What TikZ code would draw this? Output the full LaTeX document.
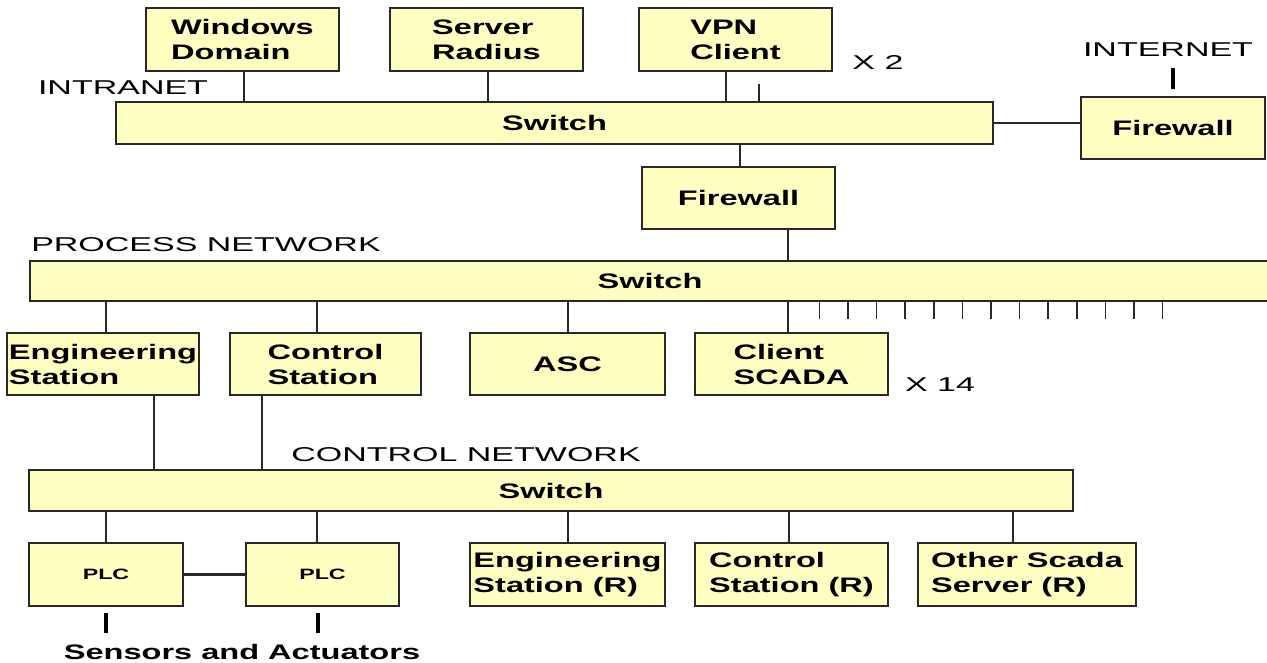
\documentclass[tikz,border=0pt]{standalone}
\usepackage{fontspec}
\setmainfont{Liberation Sans}
\newfontfamily\lblfont{Liberation Sans}[FakeStretch=1.7]
\newfontfamily\boxfont{Liberation Sans}[FakeStretch=1.55]
\definecolor{boxfill}{RGB}{255,255,194}
\definecolor{edge}{RGB}{40,40,40}
\tikzset{
  unit/.style={draw=edge, line width=1.4pt, fill=boxfill, inner sep=0pt, align=left,
    font=\boxfont\bfseries\fontsize{21}{25}\selectfont},
  small/.style={unit, font=\boxfont\bfseries\fontsize{15}{18}\selectfont},
  lbl/.style={inner sep=0pt, font=\lblfont\fontsize{20}{24}\selectfont},
  bigtxt/.style={inner sep=0pt, font=\boxfont\bfseries\fontsize{21}{25}\selectfont},
  link/.style={draw=edge, line width=1.3pt},
  tick/.style={draw=edge, line width=1.6pt},
  plclink/.style={draw=edge, line width=2.4pt},
  bar/.style={draw=black, line width=4pt}
}
\begin{document}
\begin{tikzpicture}[x=1pt, y=-1pt]
\useasboundingbox (0,0) rectangle (1267,663);
\fill[white] (0,0) rectangle (1267,663);

% ---- intranet level
\node[unit, minimum width=193pt, minimum height=63pt] (wd)  at (242.5,39.5) {Windows\\Domain};
\node[unit, minimum width=193pt, minimum height=63pt] (sr)  at (486.5,39.5) {Server\\Radius};
\node[unit, minimum width=193pt, minimum height=63pt] (vpn) at (735.5,39.5) {VPN\\Client};
\node[lbl] (x2) at (878,63) {X 2};
\node[lbl] (intranet) at (123,88) {INTRANET};
\node[unit, align=center, minimum width=877pt, minimum height=42pt] (isw) at (554.5,123) {Switch};
\node[lbl] (internet) at (1168,50) {INTERNET};
\node[unit, minimum width=184pt, minimum height=62pt] (ifw) at (1173,128) {Firewall};
\node[unit, minimum width=193pt, minimum height=62pt] (mfw) at (738.5,198) {Firewall};

% ---- process network
\node[lbl] (pnet) at (206,245) {PROCESS NETWORK};
\node[unit, align=center, minimum width=1240pt, minimum height=40pt] (psw) at (650,281) {Switch};
\node[unit, minimum width=192pt, minimum height=62pt] (es)    at (103,364)   {Engineering\\Station};
\node[unit, minimum width=191pt, minimum height=62pt] (cs)    at (325.5,364) {Control\\Station};
\node[unit, minimum width=195pt, minimum height=62pt] (asc)   at (567.5,364) {ASC};
\node[unit, minimum width=193pt, minimum height=62pt] (scada) at (791.5,364) {Client\\SCADA};
\node[lbl] (x14) at (940,385) {X 14};

% ---- control network
\node[lbl] (cnet) at (466,455) {CONTROL NETWORK};
\node[unit, align=center, minimum width=1044pt, minimum height=41pt] (csw) at (551,490.5) {Switch};
\node[small, align=center, minimum width=154pt, minimum height=63pt] (plc1) at (106,574.5) {PLC};
\node[small, align=center, minimum width=153pt, minimum height=63pt] (plc2) at (322.5,574.5) {PLC};
\node[unit, minimum width=195pt, minimum height=63pt] (esr) at (567.5,574.5) {Engineering\\Station (R)};
\node[unit, minimum width=193pt, minimum height=63pt] (csr) at (791.5,574.5) {Control\\Station (R)};
\node[unit, minimum width=218pt, minimum height=63pt] (oss) at (1027,574.5) {Other Scada\\Server (R)};
\node[bigtxt] (sens) at (242,652) {Sensors and Actuators};

% ---- connectors, intranet
\draw[link] ([xshift=1.5pt]wd.south) -- ([xshift=1.5pt]wd.south |- isw.north);
\draw[link] ([xshift=1.5pt]sr.south) -- ([xshift=1.5pt]sr.south |- isw.north);
\draw[link] ([xshift=-9.5pt]vpn.south) -- ([xshift=-9.5pt]vpn.south |- isw.north);
\draw[link] ([xshift=204.5pt]isw.north) -- ++(0,-17);
\draw[link] (isw.east) -- (isw.east -| ifw.west);
\draw[bar] ([yshift=7pt]ifw.north) -- ++(0,-21);
\draw[link] ([xshift=1.5pt]mfw.north) -- ([xshift=1.5pt]mfw.north |- isw.south);
\draw[link] ([xshift=49.5pt]mfw.south) -- ([xshift=49.5pt]mfw.south |- psw.north);

% ---- connectors, process network
\draw[link] ([xshift=3pt]es.north) -- ([xshift=3pt]es.north |- psw.south);
\draw[link] ([xshift=-8.5pt]cs.north) -- ([xshift=-8.5pt]cs.north |- psw.south);
\draw[link] ([xshift=0.5pt]asc.north) -- ([xshift=0.5pt]asc.north |- psw.south);
\draw[link] ([xshift=-3.5pt]scada.north) -- ([xshift=-3.5pt]scada.north |- psw.south);
\foreach \i in {0,...,12}
  \draw[tick] ([xshift={790pt+\i*28.6pt}]psw.south west) -- ++(0,17);

% ---- connectors, control network
\draw[link] ([xshift=51pt]es.south) -- ([xshift=51pt]es.south |- csw.north);
\draw[link] ([xshift=-63.5pt]cs.south) -- ([xshift=-63.5pt]cs.south |- csw.north);
\draw[link] (plc1.north) -- (plc1.north |- csw.south);
\draw[link] ([xshift=-5.5pt]plc2.north) -- ([xshift=-5.5pt]plc2.north |- csw.south);
\draw[link] ([xshift=0.5pt]esr.north) -- ([xshift=0.5pt]esr.north |- csw.south);
\draw[link] ([xshift=-2.5pt]csr.north) -- ([xshift=-2.5pt]csr.north |- csw.south);
\draw[link] ([xshift=-14pt]oss.north) -- ([xshift=-14pt]oss.north |- csw.south);
\draw[plclink] (plc1.east) -- (plc2.west);
\draw[bar] ([yshift=-6pt]plc1.south) -- ++(0,20);
\draw[bar] ([yshift=-6pt,xshift=-5pt]plc2.south) -- ++(0,20);
\end{tikzpicture}
\end{document}
